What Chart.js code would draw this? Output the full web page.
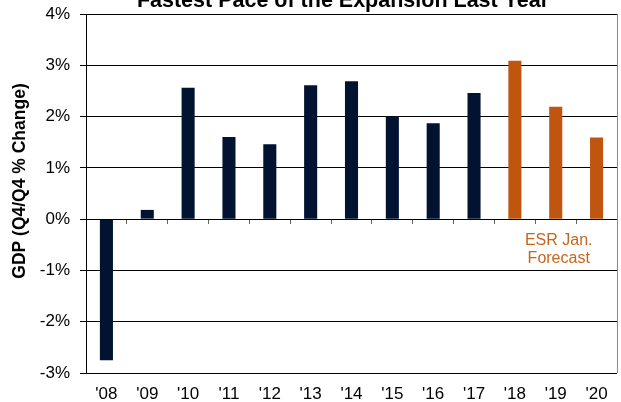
<!DOCTYPE html>
<html lang="en">
<head>
    <meta charset="UTF-8">
    <title>GDP Growth</title>
    <script src="https://cdn.jsdelivr.net/npm/chart.js"></script>
    <style>
        html, body { margin: 0; padding: 0; background: #fff; }
        canvas { display: block; }
    </style>
</head>
<body>
    <canvas id="gdpChart" width="621" height="402"></canvas>

    <script>
        // Data
        const years = ["'08", "'09", "'10", "'11", "'12", "'13", "'14", "'15", "'16", "'17", "'18", "'19", "'20"];
        const gdpGrowth = [-2.75, 0.18, 2.56, 1.60, 1.46, 2.61, 2.69, 2.00, 1.87, 2.46, 3.09, 2.19, 1.59];
        const isForecast = [false, false, false, false, false, false, false, false, false, false, true, true, true];
        const yTicks = [-3, -2, -1, 0, 1, 2, 3, 4];

        const NAVY = '#011330';
        const ORANGE = '#C0550F';
        const FONT = '"Liberation Sans", Arial, sans-serif';

        // title, y title, right border and forecast note
        const textPlugin = {
            id: 'chartText',
            afterDraw(chart) {
                const ctx = chart.ctx;
                const area = chart.chartArea;
                const x = chart.scales.x;
                const y = chart.scales.y;
                ctx.save();
                ctx.fillStyle = '#000';
                ctx.textAlign = 'center';
                ctx.textBaseline = 'alphabetic';
                ctx.font = 'bold 21.5px ' + FONT;
                ctx.fillText('Fastest Pace of the Expansion Last Year', 343, 7);

                // right border
                ctx.strokeStyle = '#8c8c8c';
                ctx.lineWidth = 1;
                ctx.beginPath();
                ctx.moveTo(area.right + 0.5, area.top);
                ctx.lineTo(area.right + 0.5, area.bottom);
                ctx.stroke();

                // y axis title
                ctx.translate(20, 181);
                ctx.rotate(-Math.PI / 2);
                ctx.textBaseline = 'middle';
                ctx.font = 'bold 17.5px ' + FONT;
                ctx.fillText('GDP (Q4/Q4 % Change)', 0, 0);
                ctx.restore();

                // forecast note
                ctx.save();
                ctx.fillStyle = '#C8641E';
                ctx.textAlign = 'center';
                ctx.textBaseline = 'middle';
                ctx.font = '16px ' + FONT;
                const cx = x.getPixelForValue(11) + 3;
                const y0 = y.getPixelForValue(0);
                ctx.fillText('ESR Jan.', cx, y0 + 21);
                ctx.fillText('Forecast', cx, y0 + 39);
                ctx.restore();
            }
        };

        const ctx = document.getElementById('gdpChart').getContext('2d');
        new Chart(ctx, {
            type: 'bar',
            data: {
                labels: years,
                datasets: [{
                    data: gdpGrowth,
                    backgroundColor: isForecast.map(f => f ? ORANGE : NAVY),
                    borderWidth: 0,
                    barPercentage: 0.32,
                    categoryPercentage: 1.0
                }]
            },
            options: {
                responsive: false,
                animation: false,
                layout: { padding: { top: 14, right: 4, left: 0, bottom: 0 } },
                plugins: {
                    legend: { display: false },
                    tooltip: { enabled: false },
                    title: { display: false }
                },
                scales: {
                    x: {
                        type: 'category',
                        position: 'bottom',
                        grid: { display: false, drawTicks: false },
                        border: { display: false },
                        ticks: {
                            color: '#000',
                            font: { family: FONT, size: 17 },
                            padding: 11,
                            maxRotation: 0,
                            autoSkip: false
                        },
                        afterFit(scale) { scale.height = 29; }
                    },
                    // tick marks between categories along the 0% line
                    x0: {
                        type: 'category',
                        position: { y: 0 },
                        offset: true,
                        grid: {
                            offset: true,
                            drawOnChartArea: false,
                            drawTicks: true,
                            tickLength: 5,
                            color: '#666'
                        },
                        border: { display: false },
                        ticks: { display: false }
                    },
                    y: {
                        min: -3,
                        max: 4,
                        afterBuildTicks(scale) {
                            scale.ticks = yTicks.map(v => ({ value: v }));
                        },
                        grid: {
                            color: '#000',
                            lineWidth: 1,
                            tickLength: 6
                        },
                        border: { display: true, color: '#000' },
                        ticks: {
                            color: '#000',
                            font: { family: FONT, size: 17 },
                            padding: 10,
                            callback: v => v + '%'
                        },
                        afterFit(scale) {
                            scale.width = 86;
                            scale.paddingTop = 0;
                            scale.paddingBottom = 0;
                        }
                    }
                }
            },
            plugins: [textPlugin]
        });
    </script>
</body>
</html>
